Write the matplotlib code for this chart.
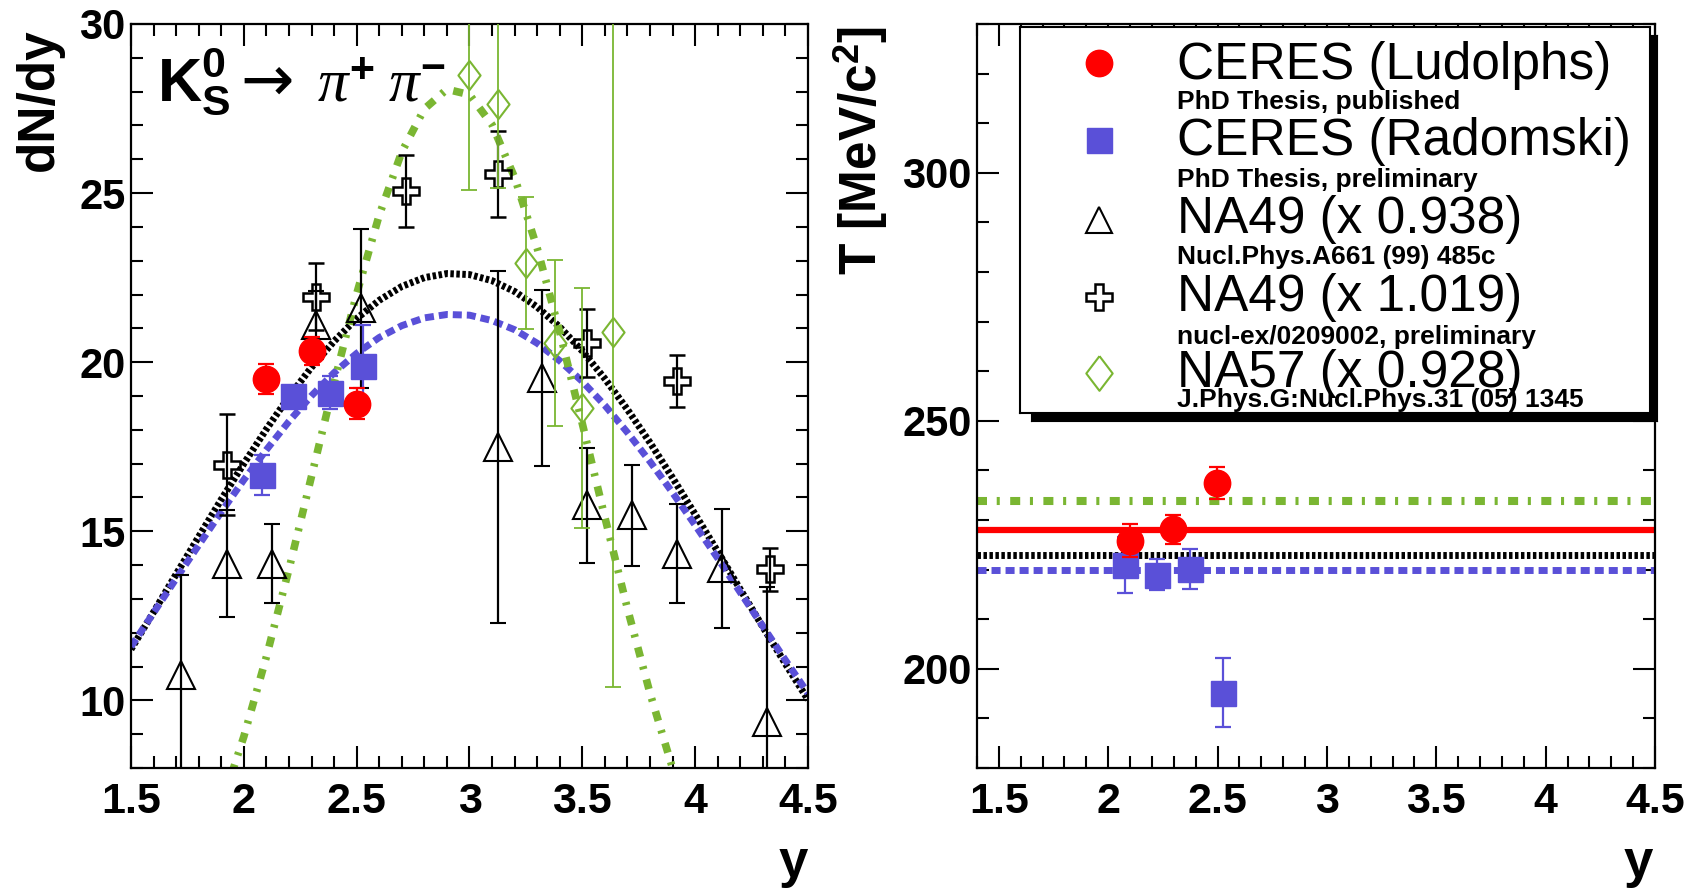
import matplotlib
matplotlib.use('Agg')
import matplotlib.pyplot as plt
from matplotlib.ticker import MultipleLocator

plt.rcParams['font.family'] = ['Liberation Sans', 'DejaVu Sans']
plt.rcParams['mathtext.fontset'] = 'custom'
plt.rcParams['mathtext.rm'] = 'Liberation Serif'
plt.rcParams['mathtext.bf'] = 'Liberation Sans:bold'
plt.rcParams['mathtext.it'] = 'Liberation Serif:italic'
plt.rcParams['lines.scale_dashes'] = False

RED = '#ff0000'
BLUE = '#5a50d8'
GREEN = '#7ab632'

# ---- left panel: dN/dy vs rapidity ----
ceres_l_y = [2.10, 2.30, 2.50]
ceres_l_dndy = [19.51, 20.33, 18.77]
ceres_l_err = [0.45, 0.40, 0.46]

ceres_r_y = [2.08, 2.22, 2.38, 2.53]
ceres_r_dndy = [16.66, 19.01, 19.10, 19.90]
ceres_r_err = [0.60, 0.30, 0.48, 1.20]

na49_tri_y = [1.72, 1.925, 2.124, 2.32, 2.52, 3.125, 3.32, 3.52, 3.72, 3.92, 4.12, 4.32]
na49_tri_dndy = [10.74, 14.04, 14.04, 21.10, 21.60, 17.50, 19.53, 15.77, 15.47, 14.34, 13.90, 9.36]
na49_tri_err = [2.96, 1.58, 1.17, 1.00, 2.35, 5.20, 2.60, 1.70, 1.50, 1.47, 1.75, 4.00]

na49_cross_y = [1.925, 2.32, 2.72, 3.125, 3.52, 3.92, 4.33]
na49_cross_dndy = [16.97, 21.94, 25.07, 25.57, 20.56, 19.43, 13.87]
na49_cross_err = [1.50, 1.00, 1.06, 1.28, 1.00, 0.77, 0.63]

na57_y = [3.00, 3.127, 3.25, 3.38, 3.50, 3.636]
na57_dndy = [28.49, 27.64, 22.93, 20.56, 18.64, 20.90]
na57_err = [3.40, 2.50, 1.95, 2.45, 3.55, 10.50]

# fit curves
fit_y = [1.5, 1.6, 1.7, 1.8, 1.9, 2.0, 2.1, 2.2, 2.3, 2.4, 2.5, 2.6, 2.7, 2.8, 2.9, 3.0,
         3.1, 3.2, 3.3, 3.4, 3.5, 3.6, 3.7, 3.8, 3.9, 4.0, 4.1, 4.2, 4.3, 4.4, 4.5]
fit_black = [11.51, 12.61, 13.73, 14.84, 15.94, 17.00, 18.02, 18.98, 19.85, 20.62, 21.29,
             21.83, 22.24, 22.50, 22.62, 22.59, 22.41, 22.09, 21.63, 21.04, 20.33, 19.51,
             18.60, 17.62, 16.58, 15.50, 14.40, 13.28, 12.17, 11.08, 10.02]
fit_blue = [11.59, 12.59, 13.60, 14.59, 15.57, 16.52, 17.41, 18.25, 19.01, 19.69, 20.26,
            20.73, 21.08, 21.31, 21.41, 21.39, 21.23, 20.96, 20.56, 20.04, 19.43, 18.72,
            17.92, 17.06, 16.14, 15.18, 14.20, 13.19, 12.19, 11.19, 10.21]
fit_green_y = [1.9, 2.0, 2.1, 2.2, 2.3, 2.4, 2.5, 2.6, 2.7, 2.8, 2.9, 3.0, 3.1,
               3.2, 3.3, 3.4, 3.5, 3.6, 3.7, 3.8, 3.9, 4.0]
fit_green = [6.89, 8.93, 11.29, 13.88, 16.63, 19.39, 22.02, 24.35, 26.22, 27.49, 28.07,
             27.91, 27.02, 25.46, 23.37, 20.89, 18.18, 15.41, 12.71, 10.21, 7.99, 6.09]

# ---- right panel: T vs rapidity ----
ceres_l_T_y = [2.10, 2.296, 2.497]
ceres_l_T = [225.8, 228.1, 237.4]
ceres_l_T_err = [3.3, 3.0, 3.2]

ceres_r_T_y = [2.077, 2.223, 2.374, 2.525]
ceres_r_T = [220.9, 219.0, 220.1, 195.2]
ceres_r_T_err = [5.6, 3.1, 4.0, 6.9]

T_green = 233.9
T_red = 228.05
T_black = 222.9
T_blue = 220.0

# legend texts
leg_main = ['CERES (Ludolphs)', 'CERES (Radomski)', 'NA49 (x 0.938)',
            'NA49 (x 1.019)', 'NA57 (x 0.928)']
leg_sub = ['PhD Thesis, published', 'PhD Thesis, preliminary',
           'Nucl.Phys.A661 (99) 485c', 'nucl-ex/0209002, preliminary',
           'J.Phys.G:Nucl.Phys.31 (05) 1345']

W, H = 1700, 891
fig = plt.figure(figsize=(17, 8.91), dpi=100)

diamond = [(0, 1), (0.76, 0), (0, -1), (-0.76, 0), (0, 1)]

dot_ls = (0, (2.5, 1.8))
dash_ls = (0, (6.5, 3.6))
dashdot_ls = (0, (7.2, 7.0, 2.2, 7.5))


def style_axes(ax):
    for s in ax.spines.values():
        s.set_linewidth(1.6)
    ax.tick_params(which='both', direction='in', top=True, right=True, width=1.5)
    ax.tick_params(which='major', length=16)
    ax.tick_params(which='minor', length=8.5)
    ax.tick_params(axis='x', labelsize=31, pad=10)
    ax.tick_params(axis='y', labelsize=30, pad=4)
    for lab in ax.get_xticklabels() + ax.get_yticklabels():
        lab.set_fontweight('bold')


ax1 = fig.add_axes([131 / W, 1 - 768 / H, 677 / W, 744 / H])
ax1.plot(fit_y, fit_black, color='black', lw=5, ls=dot_ls, zorder=2)
ax1.plot(fit_y, fit_blue, color=BLUE, lw=5, ls=dash_ls, zorder=2)
ax1.plot(fit_green_y, fit_green, color=GREEN, lw=5.5, ls=dashdot_ls, zorder=2)

ax1.errorbar(na49_tri_y, na49_tri_dndy, yerr=na49_tri_err, fmt='^', ms=20, mfc='none',
             mec='black', mew=1.5, ecolor='black', elinewidth=1.6, capsize=6, capthick=1.6,
             zorder=3)
ax1.errorbar(na49_cross_y, na49_cross_dndy, yerr=na49_cross_err, fmt='P', ms=19, mfc='none',
             mec='black', mew=1.8, ecolor='black', elinewidth=1.6, capsize=6, capthick=1.6,
             zorder=4)
ax1.errorbar(na57_y, na57_dndy, yerr=na57_err, fmt='none', ecolor=GREEN, elinewidth=1.3,
             capsize=6, capthick=1.3, zorder=5)
ax1.plot(na57_y, na57_dndy, ls='none', marker=diamond, ms=21, mfc='none', mec=GREEN,
         mew=1.5, zorder=5)
ax1.errorbar(ceres_r_y, ceres_r_dndy, yerr=ceres_r_err, fmt='s', ms=18, color=BLUE,
             elinewidth=1.6, capsize=6, capthick=1.6, zorder=6)
ax1.errorbar(ceres_l_y, ceres_l_dndy, yerr=ceres_l_err, fmt='o', ms=19, color=RED,
             elinewidth=1.6, capsize=6, capthick=1.6, zorder=7)

ax1.set_xlim(1.5, 4.5)
ax1.set_ylim(8, 30)
ax1.xaxis.set_minor_locator(MultipleLocator(0.1))
ax1.yaxis.set_major_locator(MultipleLocator(5))
ax1.yaxis.set_minor_locator(MultipleLocator(1))
ax1.set_xticks([1.5, 2, 2.5, 3, 3.5, 4, 4.5])
ax1.set_xticklabels(['1.5', '2', '2.5', '3', '3.5', '4', '4.5'])
style_axes(ax1)

# decay label, in pieces: K0_S, arrow, pi+, pi-
base = (768 - 101) / 744
ax1.text((157 - 131) / 677, base, r'$\mathbf{K}^{\mathbf{0}}_{\mathbf{S}}$',
         transform=ax1.transAxes, fontsize=44, ha='left', va='baseline')
ax1.text((240 - 131) / 677, base, '\u2192', family='DejaVu Sans',
         transform=ax1.transAxes, fontsize=46, ha='left', va='baseline')
ax1.text((317 - 131) / 677, base, r'$\pi^{\mathbf{+}}$',
         transform=ax1.transAxes, fontsize=44, ha='left', va='baseline')
ax1.text((388 - 131) / 677, base, r'$\pi^{\mathbf{-}}$',
         transform=ax1.transAxes, fontsize=44, ha='left', va='baseline')

# ---- right panel ----
ax2 = fig.add_axes([977 / W, 1 - 768 / H, 678 / W, 744 / H])
ax2.axhline(T_green, color=GREEN, lw=5.8, ls=dashdot_ls, zorder=2)
ax2.axhline(T_red, color=RED, lw=4.5, zorder=2)
ax2.axhline(T_black, color='black', lw=5, ls=dot_ls, zorder=2)
ax2.axhline(T_blue, color=BLUE, lw=5, ls=dash_ls, zorder=2)
ax2.errorbar(ceres_r_T_y, ceres_r_T, yerr=ceres_r_T_err, fmt='s', ms=18, color=BLUE,
             elinewidth=1.6, capsize=6, capthick=1.6, zorder=6)
ax2.errorbar(ceres_l_T_y, ceres_l_T, yerr=ceres_l_T_err, fmt='o', ms=19, color=RED,
             elinewidth=1.6, capsize=6, capthick=1.6, zorder=7)
ax2.set_xlim(1.4, 4.5)
ax2.set_ylim(180, 330)
ax2.set_xticks([1.5, 2, 2.5, 3, 3.5, 4, 4.5])
ax2.set_xticklabels(['1.5', '2', '2.5', '3', '3.5', '4', '4.5'])
ax2.xaxis.set_minor_locator(MultipleLocator(0.1))
ax2.yaxis.set_major_locator(MultipleLocator(50))
ax2.yaxis.set_minor_locator(MultipleLocator(10))
style_axes(ax2)

# axis titles
fig.text(39 / W, 1 - 28 / H, 'dN/dy', rotation=90, ha='center', va='top',
         fontsize=37, fontweight='bold')
fig.text(861 / W, 1 - 26 / H, r'T [MeV/c$^{\mathbf{2}}$]', rotation=90, ha='center',
         va='top', fontsize=37, fontweight='bold')
fig.text(808 / W, 1 - 888 / H, 'y', ha='right', va='bottom', fontsize=38, fontweight='bold')
fig.text(1653 / W, 1 - 888 / H, 'y', ha='right', va='bottom', fontsize=38, fontweight='bold')

# ---- legend box with shadow (pixel coordinates) ----
shadow = fig.add_axes([1031 / W, 1 - 421 / H, 626 / W, 386 / H])
shadow.set_facecolor('black')
shadow.set_xticks([])
shadow.set_yticks([])

leg = fig.add_axes([1020 / W, 1 - 413 / H, 630 / W, 386 / H])
leg.set_xlim(1020, 1650)
leg.set_ylim(413, 27)
leg.set_xticks([])
leg.set_yticks([])
for s in leg.spines.values():
    s.set_linewidth(1.5)

leg_marker_y = [63, 140, 220, 297, 373]
leg_main_y = [65, 142, 220, 298, 373]
leg_sub_y = [102, 180, 257, 337, 400]
leg.plot(1099, leg_marker_y[0], 'o', ms=19, color=RED)
leg.plot(1099, leg_marker_y[1], 's', ms=18, color=BLUE)
leg.plot(1099, leg_marker_y[2], '^', ms=19, mfc='none', mec='black', mew=1.5)
leg.plot(1099, leg_marker_y[3], 'P', ms=19, mfc='none', mec='black', mew=1.8)
leg.plot(1099, leg_marker_y[4], marker=diamond, ms=25, mfc='none', mec=GREEN, mew=1.5)
for i in range(5):
    leg.text(1177, leg_main_y[i], leg_main[i], fontsize=37, ha='left', va='center')
    leg.text(1177, leg_sub_y[i], leg_sub[i], fontsize=19, fontweight='bold',
             ha='left', va='center')

fig.savefig('out.png', dpi=100, facecolor='white')
